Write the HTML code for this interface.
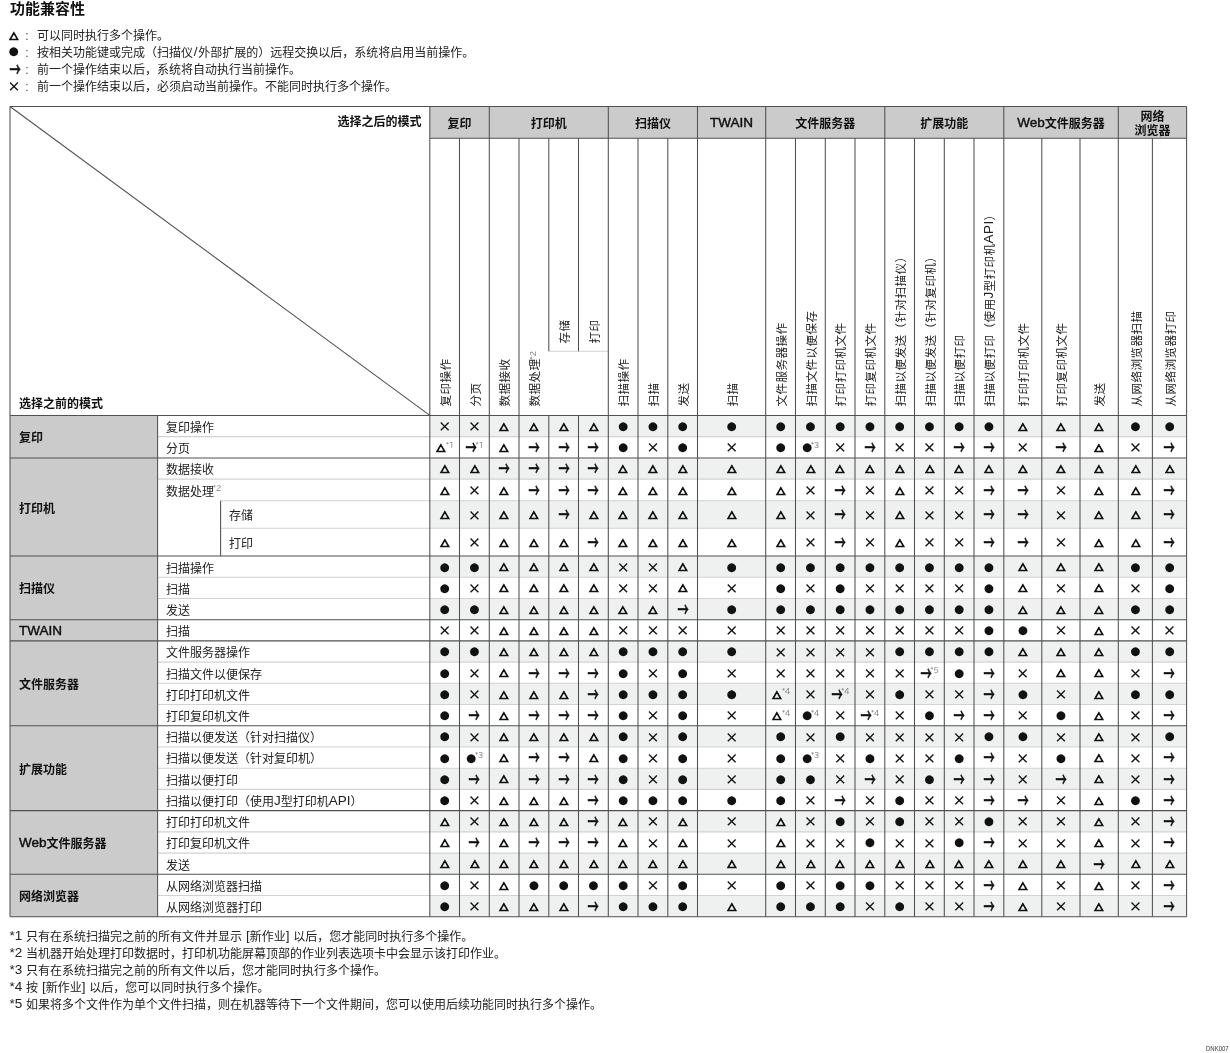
<!DOCTYPE html>
<html lang="zh-CN"><head><meta charset="utf-8"><title>功能兼容性</title>
<style>
html,body{margin:0;padding:0;background:#fff}
body{width:1230px;height:1053px;position:relative;overflow:hidden;font-family:"Liberation Sans","Noto Sans CJK SC",sans-serif;font-size:12px;line-height:17px;color:#222}
svg{position:absolute;left:0;top:0}
.d1,.d{position:absolute}
path.d{stroke:#505050;stroke-width:1.05;fill:none;position:static}
path.l{stroke:#d2d2d2;stroke-width:1.1;fill:none}
div{position:absolute;white-space:nowrap;height:17px}
.ti{font-size:15px;font-weight:bold;line-height:20px;height:20px;color:#111}
.b{font-weight:bold;color:#111}
.r{text-align:right}.c{text-align:center}
.g2{line-height:13.6px;height:27px}
.lg{left:0;width:800px;height:0}
.lg>span{position:absolute}
.ls{width:20px;text-align:center}
.co{left:25.3px;color:#444}
.lt{left:37px}
.v{width:0;height:0}
.v>span{position:absolute;left:0;top:-8.5px;height:17px;line-height:17px;transform-origin:0 8.5px;transform:rotate(-90deg);white-space:nowrap;font-size:11.6px;letter-spacing:.4px}
.d{text-align:center}
i{font-style:normal;color:#111;display:inline-block;line-height:17px;vertical-align:top}
sup{display:inline-block;font-size:8.3px;color:#808080;vertical-align:top;position:relative;top:-2.1px;margin:0 -.3px 0 -1.1px;line-height:17px;font-family:"IPAPGothic","NanumGothic","Liberation Sans",sans-serif}
.s sup{top:-3.4px}
.v sup{top:-1.5px}
.T{font-family:"IPAGothic",sans-serif;font-size:11.7px;-webkit-text-stroke:.9px #111;transform:scale(.96,.87);position:relative;top:1.15px}
.C{font-family:"DejaVu Sans",sans-serif;font-size:11.6px;position:relative;top:.5px}
.A{font-family:"Noto Sans CJK SC",sans-serif;font-weight:500;font-size:16px;-webkit-text-stroke:.45px #111;transform:scale(.7,1.2);margin:0 -2.4px;position:relative;top:.42px}
.X{font-family:"Noto Sans CJK SC",sans-serif;font-weight:700;font-size:13.4px;transform:scale(1,1);position:relative;top:-.3px}
.L{font-size:13.5px;line-height:0;position:relative;top:-.75px}
.Lb{font-size:13.5px;line-height:0;position:relative;top:-.75px;font-weight:normal;-webkit-text-stroke:.45px #111}
.sl{margin:0 .75px}
.id{font-size:7.1px;color:#333;line-height:8px;height:8px;transform:scaleX(.845);transform-origin:0 0}
</style></head>
<body>
<svg width="1230" height="1053" viewBox="0 0 1230 1053">
<rect x="429.80" y="106.50" width="756.80" height="31.80" fill="#cbcbcb"/>
<rect x="10.00" y="415.40" width="147.60" height="501.34" fill="#cbcbcb"/>
<rect x="429.80" y="415.40" width="756.80" height="21.25" fill="#eff0f0"/>
<rect x="429.80" y="457.90" width="756.80" height="21.25" fill="#eff0f0"/>
<rect x="429.80" y="500.80" width="756.80" height="27.40" fill="#eff0f0"/>
<rect x="429.80" y="556.00" width="756.80" height="21.22" fill="#eff0f0"/>
<rect x="429.80" y="598.44" width="756.80" height="21.22" fill="#eff0f0"/>
<rect x="429.80" y="640.88" width="756.80" height="21.22" fill="#eff0f0"/>
<rect x="429.80" y="683.32" width="756.80" height="21.22" fill="#eff0f0"/>
<rect x="429.80" y="725.76" width="756.80" height="21.22" fill="#eff0f0"/>
<rect x="429.80" y="768.20" width="756.80" height="21.22" fill="#eff0f0"/>
<rect x="429.80" y="810.64" width="756.80" height="21.22" fill="#eff0f0"/>
<rect x="429.80" y="853.08" width="756.80" height="21.22" fill="#eff0f0"/>
<rect x="429.80" y="895.52" width="756.80" height="21.22" fill="#eff0f0"/>
<path class="l" d="M157.60 436.65L1186.60 436.65"/>
<path class="l" d="M157.60 479.15L1186.60 479.15"/>
<path class="l" d="M220.60 500.80L1186.60 500.80"/>
<path class="l" d="M220.60 528.20L1186.60 528.20"/>
<path class="l" d="M157.60 577.22L1186.60 577.22"/>
<path class="l" d="M157.60 598.44L1186.60 598.44"/>
<path class="l" d="M157.60 662.10L1186.60 662.10"/>
<path class="l" d="M157.60 683.32L1186.60 683.32"/>
<path class="l" d="M157.60 704.54L1186.60 704.54"/>
<path class="l" d="M157.60 746.98L1186.60 746.98"/>
<path class="l" d="M157.60 768.20L1186.60 768.20"/>
<path class="l" d="M157.60 789.42L1186.60 789.42"/>
<path class="l" d="M157.60 831.86L1186.60 831.86"/>
<path class="l" d="M157.60 853.08L1186.60 853.08"/>
<path class="l" d="M157.60 895.52L1186.60 895.52"/>
<path class="l" d="M548.80 351.30L608.30 351.30"/>
<path class="d" d="M10.00 106.50L1186.60 106.50"/>
<path class="d" d="M10.00 916.74L1186.60 916.74"/>
<path class="d" d="M10.00 106.50L10.00 916.74"/>
<path class="d" d="M1186.60 106.50L1186.60 916.74"/>
<path class="d" d="M429.80 138.30L1186.60 138.30"/>
<path class="d" d="M10.00 415.40L1186.60 415.40"/>
<path class="d" d="M10.00 457.90L1186.60 457.90"/>
<path class="d" d="M10.00 556.00L1186.60 556.00"/>
<path class="d" d="M10.00 619.66L1186.60 619.66"/>
<path class="d" d="M10.00 640.88L1186.60 640.88"/>
<path class="d" d="M10.00 725.76L1186.60 725.76"/>
<path class="d" d="M10.00 810.64L1186.60 810.64"/>
<path class="d" d="M10.00 874.30L1186.60 874.30"/>
<path class="d" d="M157.60 415.40L157.60 916.74"/>
<path class="d" d="M220.60 500.80L220.60 556.00"/>
<path class="d" d="M429.80 106.50L429.80 916.74"/>
<path class="d" d="M459.50 138.30L459.50 916.74"/>
<path class="d" d="M489.30 106.50L489.30 916.74"/>
<path class="d" d="M519.00 138.30L519.00 916.74"/>
<path class="d" d="M548.80 138.30L548.80 351.30"/>
<path class="d" d="M548.80 415.40L548.80 916.74"/>
<path class="d" d="M578.50 138.30L578.50 351.30"/>
<path class="d" d="M578.50 415.40L578.50 916.74"/>
<path class="d" d="M608.30 106.50L608.30 916.74"/>
<path class="d" d="M638.00 138.30L638.00 916.74"/>
<path class="d" d="M667.80 138.30L667.80 916.74"/>
<path class="d" d="M697.50 106.50L697.50 916.74"/>
<path class="d" d="M765.70 106.50L765.70 916.74"/>
<path class="d" d="M795.50 138.30L795.50 916.74"/>
<path class="d" d="M825.30 138.30L825.30 916.74"/>
<path class="d" d="M855.00 138.30L855.00 916.74"/>
<path class="d" d="M884.80 106.50L884.80 916.74"/>
<path class="d" d="M914.50 138.30L914.50 916.74"/>
<path class="d" d="M944.30 138.30L944.30 916.74"/>
<path class="d" d="M974.00 138.30L974.00 916.74"/>
<path class="d" d="M1003.80 106.50L1003.80 916.74"/>
<path class="d" d="M1041.80 138.30L1041.80 916.74"/>
<path class="d" d="M1080.00 138.30L1080.00 916.74"/>
<path class="d" d="M1118.30 106.50L1118.30 916.74"/>
<path class="d" d="M1152.40 138.30L1152.40 916.74"/>
<path class="d" d="M10.00 106.50L429.80 415.40"/>
</svg>
<div class="ti" style="left:10px;top:-0.8px">功能兼容性</div>
<div class="lg" style="top:0px"><span class="ls" style="left:4.10px;top:27.54px"><i class="T" style="top:0">△</i></span><span class="co" style="top:27.7px">:</span><span class="lt" style="top:27.7px">可以同时执行多个操作。</span></div>
<div class="lg" style="top:17px"><span class="ls" style="left:3.46px;top:26.45px"><i class="C" style="top:0">●</i></span><span class="co" style="top:27.7px">:</span><span class="lt" style="top:27.7px">按相关功能键或完成（扫描仪<span class="L sl">/</span>外部扩展的）远程交换以后，系统将启用当前操作。</span></div>
<div class="lg" style="top:34px"><span class="ls" style="left:4.63px;top:26.95px"><i class="A" style="top:0">→</i></span><span class="co" style="top:27.7px">:</span><span class="lt" style="top:27.7px">前一个操作结束以后，系统将自动执行当前操作。</span></div>
<div class="lg" style="top:51px"><span class="ls" style="left:3.97px;top:26.08px"><i class="X" style="top:0">×</i></span><span class="co" style="top:27.7px">:</span><span class="lt" style="top:27.7px">前一个操作结束以后，必须启动当前操作。不能同时执行多个操作。</span></div>
<div class="b r" style="left:200px;width:221.6px;top:114.0px">选择之后的模式</div>
<div class="b" style="left:18.9px;top:395.6px">选择之前的模式</div>
<div class="b c" style="left:429.80px;width:59.50px;top:116.1px">复印</div>
<div class="b c" style="left:489.30px;width:119.00px;top:116.1px">打印机</div>
<div class="b c" style="left:608.30px;width:89.20px;top:116.1px">扫描仪</div>
<div class="b c" style="left:697.50px;width:68.20px;top:116.1px"><span class="Lb">TWAIN</span></div>
<div class="b c" style="left:765.70px;width:119.10px;top:116.1px">文件服务器</div>
<div class="b c" style="left:884.80px;width:119.00px;top:116.1px">扩展功能</div>
<div class="b c" style="left:1003.80px;width:114.50px;top:116.1px"><span class="Lb">Web</span>文件服务器</div>
<div class="b c g2" style="left:1118.30px;width:68.30px;top:111.0px">网络<br>浏览器</div>
<div class="v" style="left:444.95px;top:406.9px"><span>复印操作</span></div>
<div class="v" style="left:474.70px;top:406.9px"><span>分页</span></div>
<div class="v" style="left:504.45px;top:406.9px"><span>数据接收</span></div>
<div class="v" style="left:534.20px;top:406.9px"><span>数据处理<sup>*2</sup></span></div>
<div class="v" style="left:563.95px;top:343.9px"><span>存储</span></div>
<div class="v" style="left:593.70px;top:343.9px"><span>打印</span></div>
<div class="v" style="left:623.45px;top:406.9px"><span>扫描操作</span></div>
<div class="v" style="left:653.20px;top:406.9px"><span>扫描</span></div>
<div class="v" style="left:682.95px;top:406.9px"><span>发送</span></div>
<div class="v" style="left:731.90px;top:406.9px"><span>扫描</span></div>
<div class="v" style="left:780.90px;top:406.9px"><span>文件服务器操作</span></div>
<div class="v" style="left:810.70px;top:406.9px"><span>扫描文件以便保存</span></div>
<div class="v" style="left:840.45px;top:406.9px"><span>打印打印机文件</span></div>
<div class="v" style="left:870.20px;top:406.9px"><span>打印复印机文件</span></div>
<div class="v" style="left:899.95px;top:406.9px"><span>扫描以便发送（针对扫描仪）</span></div>
<div class="v" style="left:929.70px;top:406.9px"><span>扫描以便发送（针对复印机）</span></div>
<div class="v" style="left:959.45px;top:406.9px"><span>扫描以便打印</span></div>
<div class="v" style="left:989.20px;top:406.9px"><span>扫描以便打印（使用<span class="L">J</span>型打印机<span class="L">API</span>）</span></div>
<div class="v" style="left:1023.10px;top:406.9px"><span>打印打印机文件</span></div>
<div class="v" style="left:1061.20px;top:406.9px"><span>打印复印机文件</span></div>
<div class="v" style="left:1099.45px;top:406.9px"><span>发送</span></div>
<div class="v" style="left:1135.65px;top:406.9px"><span>从网络浏览器扫描</span></div>
<div class="v" style="left:1169.80px;top:406.9px"><span>从网络浏览器打印</span></div>
<div class="b" style="left:19px;top:430.2px">复印</div>
<div class="b" style="left:19px;top:500.5px">打印机</div>
<div class="b" style="left:19px;top:581.4px">扫描仪</div>
<div class="b" style="left:19px;top:623.8px"><span class="Lb">TWAIN</span></div>
<div class="b" style="left:19px;top:676.9px">文件服务器</div>
<div class="b" style="left:19px;top:761.8px">扩展功能</div>
<div class="b" style="left:19px;top:836.0px"><span class="Lb">Web</span>文件服务器</div>
<div class="b" style="left:19px;top:889.1px">网络浏览器</div>
<div class="s" style="left:165.9px;top:419.9px">复印操作</div>
<div class="s" style="left:165.9px;top:441.1px">分页</div>
<div class="s" style="left:165.9px;top:462.4px">数据接收</div>
<div class="s" style="left:165.9px;top:483.8px">数据处理<sup>*2</sup></div>
<div class="s" style="left:228.9px;top:508.4px">存储</div>
<div class="s" style="left:228.9px;top:536.0px">打印</div>
<div class="s" style="left:165.9px;top:560.5px">扫描操作</div>
<div class="s" style="left:165.9px;top:581.7px">扫描</div>
<div class="s" style="left:165.9px;top:602.9px">发送</div>
<div class="s" style="left:165.9px;top:624.1px">扫描</div>
<div class="s" style="left:165.9px;top:645.3px">文件服务器操作</div>
<div class="s" style="left:165.9px;top:666.6px">扫描文件以便保存</div>
<div class="s" style="left:165.9px;top:687.8px">打印打印机文件</div>
<div class="s" style="left:165.9px;top:709.0px">打印复印机文件</div>
<div class="s" style="left:165.9px;top:730.2px">扫描以便发送（针对扫描仪）</div>
<div class="s" style="left:165.9px;top:751.4px">扫描以便发送（针对复印机）</div>
<div class="s" style="left:165.9px;top:772.7px">扫描以便打印</div>
<div class="s" style="left:165.9px;top:793.9px">扫描以便打印（使用<span class="L">J</span>型打印机<span class="L">API</span>）</div>
<div class="s" style="left:165.9px;top:815.1px">打印打印机文件</div>
<div class="s" style="left:165.9px;top:836.3px">打印复印机文件</div>
<div class="s" style="left:165.9px;top:857.5px">发送</div>
<div class="s" style="left:165.9px;top:878.8px">从网络浏览器扫描</div>
<div class="s" style="left:165.9px;top:900.0px">从网络浏览器打印</div>
<div class="d" style="left:429.80px;width:29.70px;top:417.52px"><i class="X">×</i></div>
<div class="d" style="left:459.50px;width:29.80px;top:417.52px"><i class="X">×</i></div>
<div class="d" style="left:489.30px;width:29.70px;top:417.52px"><i class="T">△</i></div>
<div class="d" style="left:519.00px;width:29.80px;top:417.52px"><i class="T">△</i></div>
<div class="d" style="left:548.80px;width:29.70px;top:417.52px"><i class="T">△</i></div>
<div class="d" style="left:578.50px;width:29.80px;top:417.52px"><i class="T">△</i></div>
<div class="d" style="left:608.30px;width:29.70px;top:417.52px"><i class="C">●</i></div>
<div class="d" style="left:638.00px;width:29.80px;top:417.52px"><i class="C">●</i></div>
<div class="d" style="left:667.80px;width:29.70px;top:417.52px"><i class="C">●</i></div>
<div class="d" style="left:697.50px;width:68.20px;top:417.52px"><i class="C">●</i></div>
<div class="d" style="left:765.70px;width:29.80px;top:417.52px"><i class="C">●</i></div>
<div class="d" style="left:795.50px;width:29.80px;top:417.52px"><i class="C">●</i></div>
<div class="d" style="left:825.30px;width:29.70px;top:417.52px"><i class="C">●</i></div>
<div class="d" style="left:855.00px;width:29.80px;top:417.52px"><i class="C">●</i></div>
<div class="d" style="left:884.80px;width:29.70px;top:417.52px"><i class="C">●</i></div>
<div class="d" style="left:914.50px;width:29.80px;top:417.52px"><i class="C">●</i></div>
<div class="d" style="left:944.30px;width:29.70px;top:417.52px"><i class="C">●</i></div>
<div class="d" style="left:974.00px;width:29.80px;top:417.52px"><i class="C">●</i></div>
<div class="d" style="left:1003.80px;width:38.00px;top:417.52px"><i class="T">△</i></div>
<div class="d" style="left:1041.80px;width:38.20px;top:417.52px"><i class="T">△</i></div>
<div class="d" style="left:1080.00px;width:38.30px;top:417.52px"><i class="T">△</i></div>
<div class="d" style="left:1118.30px;width:34.10px;top:417.52px"><i class="C">●</i></div>
<div class="d" style="left:1152.40px;width:34.20px;top:417.52px"><i class="C">●</i></div>
<div class="d" style="left:429.80px;width:29.70px;top:438.77px"><i class="T">△</i><sup>*1</sup></div>
<div class="d" style="left:459.50px;width:29.80px;top:438.77px"><i class="A">→</i><sup>*1</sup></div>
<div class="d" style="left:489.30px;width:29.70px;top:438.77px"><i class="T">△</i></div>
<div class="d" style="left:519.00px;width:29.80px;top:438.77px"><i class="A">→</i></div>
<div class="d" style="left:548.80px;width:29.70px;top:438.77px"><i class="A">→</i></div>
<div class="d" style="left:578.50px;width:29.80px;top:438.77px"><i class="A">→</i></div>
<div class="d" style="left:608.30px;width:29.70px;top:438.77px"><i class="C">●</i></div>
<div class="d" style="left:638.00px;width:29.80px;top:438.77px"><i class="X">×</i></div>
<div class="d" style="left:667.80px;width:29.70px;top:438.77px"><i class="C">●</i></div>
<div class="d" style="left:697.50px;width:68.20px;top:438.77px"><i class="X">×</i></div>
<div class="d" style="left:765.70px;width:29.80px;top:438.77px"><i class="C">●</i></div>
<div class="d" style="left:795.50px;width:29.80px;top:438.77px"><i class="C">●</i><sup>*3</sup></div>
<div class="d" style="left:825.30px;width:29.70px;top:438.77px"><i class="X">×</i></div>
<div class="d" style="left:855.00px;width:29.80px;top:438.77px"><i class="A">→</i></div>
<div class="d" style="left:884.80px;width:29.70px;top:438.77px"><i class="X">×</i></div>
<div class="d" style="left:914.50px;width:29.80px;top:438.77px"><i class="X">×</i></div>
<div class="d" style="left:944.30px;width:29.70px;top:438.77px"><i class="A">→</i></div>
<div class="d" style="left:974.00px;width:29.80px;top:438.77px"><i class="A">→</i></div>
<div class="d" style="left:1003.80px;width:38.00px;top:438.77px"><i class="X">×</i></div>
<div class="d" style="left:1041.80px;width:38.20px;top:438.77px"><i class="A">→</i></div>
<div class="d" style="left:1080.00px;width:38.30px;top:438.77px"><i class="T">△</i></div>
<div class="d" style="left:1118.30px;width:34.10px;top:438.77px"><i class="X">×</i></div>
<div class="d" style="left:1152.40px;width:34.20px;top:438.77px"><i class="A">→</i></div>
<div class="d" style="left:429.80px;width:29.70px;top:460.02px"><i class="T">△</i></div>
<div class="d" style="left:459.50px;width:29.80px;top:460.02px"><i class="T">△</i></div>
<div class="d" style="left:489.30px;width:29.70px;top:460.02px"><i class="A">→</i></div>
<div class="d" style="left:519.00px;width:29.80px;top:460.02px"><i class="A">→</i></div>
<div class="d" style="left:548.80px;width:29.70px;top:460.02px"><i class="A">→</i></div>
<div class="d" style="left:578.50px;width:29.80px;top:460.02px"><i class="A">→</i></div>
<div class="d" style="left:608.30px;width:29.70px;top:460.02px"><i class="T">△</i></div>
<div class="d" style="left:638.00px;width:29.80px;top:460.02px"><i class="T">△</i></div>
<div class="d" style="left:667.80px;width:29.70px;top:460.02px"><i class="T">△</i></div>
<div class="d" style="left:697.50px;width:68.20px;top:460.02px"><i class="T">△</i></div>
<div class="d" style="left:765.70px;width:29.80px;top:460.02px"><i class="T">△</i></div>
<div class="d" style="left:795.50px;width:29.80px;top:460.02px"><i class="T">△</i></div>
<div class="d" style="left:825.30px;width:29.70px;top:460.02px"><i class="T">△</i></div>
<div class="d" style="left:855.00px;width:29.80px;top:460.02px"><i class="T">△</i></div>
<div class="d" style="left:884.80px;width:29.70px;top:460.02px"><i class="T">△</i></div>
<div class="d" style="left:914.50px;width:29.80px;top:460.02px"><i class="T">△</i></div>
<div class="d" style="left:944.30px;width:29.70px;top:460.02px"><i class="T">△</i></div>
<div class="d" style="left:974.00px;width:29.80px;top:460.02px"><i class="T">△</i></div>
<div class="d" style="left:1003.80px;width:38.00px;top:460.02px"><i class="T">△</i></div>
<div class="d" style="left:1041.80px;width:38.20px;top:460.02px"><i class="T">△</i></div>
<div class="d" style="left:1080.00px;width:38.30px;top:460.02px"><i class="T">△</i></div>
<div class="d" style="left:1118.30px;width:34.10px;top:460.02px"><i class="T">△</i></div>
<div class="d" style="left:1152.40px;width:34.20px;top:460.02px"><i class="T">△</i></div>
<div class="d" style="left:429.80px;width:29.70px;top:481.48px"><i class="T">△</i></div>
<div class="d" style="left:459.50px;width:29.80px;top:481.48px"><i class="X">×</i></div>
<div class="d" style="left:489.30px;width:29.70px;top:481.48px"><i class="T">△</i></div>
<div class="d" style="left:519.00px;width:29.80px;top:481.48px"><i class="A">→</i></div>
<div class="d" style="left:548.80px;width:29.70px;top:481.48px"><i class="A">→</i></div>
<div class="d" style="left:578.50px;width:29.80px;top:481.48px"><i class="A">→</i></div>
<div class="d" style="left:608.30px;width:29.70px;top:481.48px"><i class="T">△</i></div>
<div class="d" style="left:638.00px;width:29.80px;top:481.48px"><i class="T">△</i></div>
<div class="d" style="left:667.80px;width:29.70px;top:481.48px"><i class="T">△</i></div>
<div class="d" style="left:697.50px;width:68.20px;top:481.48px"><i class="T">△</i></div>
<div class="d" style="left:765.70px;width:29.80px;top:481.48px"><i class="T">△</i></div>
<div class="d" style="left:795.50px;width:29.80px;top:481.48px"><i class="X">×</i></div>
<div class="d" style="left:825.30px;width:29.70px;top:481.48px"><i class="A">→</i></div>
<div class="d" style="left:855.00px;width:29.80px;top:481.48px"><i class="X">×</i></div>
<div class="d" style="left:884.80px;width:29.70px;top:481.48px"><i class="T">△</i></div>
<div class="d" style="left:914.50px;width:29.80px;top:481.48px"><i class="X">×</i></div>
<div class="d" style="left:944.30px;width:29.70px;top:481.48px"><i class="X">×</i></div>
<div class="d" style="left:974.00px;width:29.80px;top:481.48px"><i class="A">→</i></div>
<div class="d" style="left:1003.80px;width:38.00px;top:481.48px"><i class="A">→</i></div>
<div class="d" style="left:1041.80px;width:38.20px;top:481.48px"><i class="X">×</i></div>
<div class="d" style="left:1080.00px;width:38.30px;top:481.48px"><i class="T">△</i></div>
<div class="d" style="left:1118.30px;width:34.10px;top:481.48px"><i class="T">△</i></div>
<div class="d" style="left:1152.40px;width:34.20px;top:481.48px"><i class="A">→</i></div>
<div class="d" style="left:429.80px;width:29.70px;top:506.00px"><i class="T">△</i></div>
<div class="d" style="left:459.50px;width:29.80px;top:506.00px"><i class="X">×</i></div>
<div class="d" style="left:489.30px;width:29.70px;top:506.00px"><i class="T">△</i></div>
<div class="d" style="left:519.00px;width:29.80px;top:506.00px"><i class="T">△</i></div>
<div class="d" style="left:548.80px;width:29.70px;top:506.00px"><i class="A">→</i></div>
<div class="d" style="left:578.50px;width:29.80px;top:506.00px"><i class="T">△</i></div>
<div class="d" style="left:608.30px;width:29.70px;top:506.00px"><i class="T">△</i></div>
<div class="d" style="left:638.00px;width:29.80px;top:506.00px"><i class="T">△</i></div>
<div class="d" style="left:667.80px;width:29.70px;top:506.00px"><i class="T">△</i></div>
<div class="d" style="left:697.50px;width:68.20px;top:506.00px"><i class="T">△</i></div>
<div class="d" style="left:765.70px;width:29.80px;top:506.00px"><i class="T">△</i></div>
<div class="d" style="left:795.50px;width:29.80px;top:506.00px"><i class="X">×</i></div>
<div class="d" style="left:825.30px;width:29.70px;top:506.00px"><i class="A">→</i></div>
<div class="d" style="left:855.00px;width:29.80px;top:506.00px"><i class="X">×</i></div>
<div class="d" style="left:884.80px;width:29.70px;top:506.00px"><i class="T">△</i></div>
<div class="d" style="left:914.50px;width:29.80px;top:506.00px"><i class="X">×</i></div>
<div class="d" style="left:944.30px;width:29.70px;top:506.00px"><i class="X">×</i></div>
<div class="d" style="left:974.00px;width:29.80px;top:506.00px"><i class="A">→</i></div>
<div class="d" style="left:1003.80px;width:38.00px;top:506.00px"><i class="A">→</i></div>
<div class="d" style="left:1041.80px;width:38.20px;top:506.00px"><i class="X">×</i></div>
<div class="d" style="left:1080.00px;width:38.30px;top:506.00px"><i class="T">△</i></div>
<div class="d" style="left:1118.30px;width:34.10px;top:506.00px"><i class="T">△</i></div>
<div class="d" style="left:1152.40px;width:34.20px;top:506.00px"><i class="A">→</i></div>
<div class="d" style="left:429.80px;width:29.70px;top:533.60px"><i class="T">△</i></div>
<div class="d" style="left:459.50px;width:29.80px;top:533.60px"><i class="X">×</i></div>
<div class="d" style="left:489.30px;width:29.70px;top:533.60px"><i class="T">△</i></div>
<div class="d" style="left:519.00px;width:29.80px;top:533.60px"><i class="T">△</i></div>
<div class="d" style="left:548.80px;width:29.70px;top:533.60px"><i class="T">△</i></div>
<div class="d" style="left:578.50px;width:29.80px;top:533.60px"><i class="A">→</i></div>
<div class="d" style="left:608.30px;width:29.70px;top:533.60px"><i class="T">△</i></div>
<div class="d" style="left:638.00px;width:29.80px;top:533.60px"><i class="T">△</i></div>
<div class="d" style="left:667.80px;width:29.70px;top:533.60px"><i class="T">△</i></div>
<div class="d" style="left:697.50px;width:68.20px;top:533.60px"><i class="T">△</i></div>
<div class="d" style="left:765.70px;width:29.80px;top:533.60px"><i class="T">△</i></div>
<div class="d" style="left:795.50px;width:29.80px;top:533.60px"><i class="X">×</i></div>
<div class="d" style="left:825.30px;width:29.70px;top:533.60px"><i class="A">→</i></div>
<div class="d" style="left:855.00px;width:29.80px;top:533.60px"><i class="X">×</i></div>
<div class="d" style="left:884.80px;width:29.70px;top:533.60px"><i class="T">△</i></div>
<div class="d" style="left:914.50px;width:29.80px;top:533.60px"><i class="X">×</i></div>
<div class="d" style="left:944.30px;width:29.70px;top:533.60px"><i class="X">×</i></div>
<div class="d" style="left:974.00px;width:29.80px;top:533.60px"><i class="A">→</i></div>
<div class="d" style="left:1003.80px;width:38.00px;top:533.60px"><i class="A">→</i></div>
<div class="d" style="left:1041.80px;width:38.20px;top:533.60px"><i class="X">×</i></div>
<div class="d" style="left:1080.00px;width:38.30px;top:533.60px"><i class="T">△</i></div>
<div class="d" style="left:1118.30px;width:34.10px;top:533.60px"><i class="T">△</i></div>
<div class="d" style="left:1152.40px;width:34.20px;top:533.60px"><i class="A">→</i></div>
<div class="d" style="left:429.80px;width:29.70px;top:558.11px"><i class="C">●</i></div>
<div class="d" style="left:459.50px;width:29.80px;top:558.11px"><i class="C">●</i></div>
<div class="d" style="left:489.30px;width:29.70px;top:558.11px"><i class="T">△</i></div>
<div class="d" style="left:519.00px;width:29.80px;top:558.11px"><i class="T">△</i></div>
<div class="d" style="left:548.80px;width:29.70px;top:558.11px"><i class="T">△</i></div>
<div class="d" style="left:578.50px;width:29.80px;top:558.11px"><i class="T">△</i></div>
<div class="d" style="left:608.30px;width:29.70px;top:558.11px"><i class="X">×</i></div>
<div class="d" style="left:638.00px;width:29.80px;top:558.11px"><i class="X">×</i></div>
<div class="d" style="left:667.80px;width:29.70px;top:558.11px"><i class="T">△</i></div>
<div class="d" style="left:697.50px;width:68.20px;top:558.11px"><i class="C">●</i></div>
<div class="d" style="left:765.70px;width:29.80px;top:558.11px"><i class="C">●</i></div>
<div class="d" style="left:795.50px;width:29.80px;top:558.11px"><i class="C">●</i></div>
<div class="d" style="left:825.30px;width:29.70px;top:558.11px"><i class="C">●</i></div>
<div class="d" style="left:855.00px;width:29.80px;top:558.11px"><i class="C">●</i></div>
<div class="d" style="left:884.80px;width:29.70px;top:558.11px"><i class="C">●</i></div>
<div class="d" style="left:914.50px;width:29.80px;top:558.11px"><i class="C">●</i></div>
<div class="d" style="left:944.30px;width:29.70px;top:558.11px"><i class="C">●</i></div>
<div class="d" style="left:974.00px;width:29.80px;top:558.11px"><i class="C">●</i></div>
<div class="d" style="left:1003.80px;width:38.00px;top:558.11px"><i class="T">△</i></div>
<div class="d" style="left:1041.80px;width:38.20px;top:558.11px"><i class="T">△</i></div>
<div class="d" style="left:1080.00px;width:38.30px;top:558.11px"><i class="T">△</i></div>
<div class="d" style="left:1118.30px;width:34.10px;top:558.11px"><i class="C">●</i></div>
<div class="d" style="left:1152.40px;width:34.20px;top:558.11px"><i class="C">●</i></div>
<div class="d" style="left:429.80px;width:29.70px;top:579.33px"><i class="C">●</i></div>
<div class="d" style="left:459.50px;width:29.80px;top:579.33px"><i class="X">×</i></div>
<div class="d" style="left:489.30px;width:29.70px;top:579.33px"><i class="T">△</i></div>
<div class="d" style="left:519.00px;width:29.80px;top:579.33px"><i class="T">△</i></div>
<div class="d" style="left:548.80px;width:29.70px;top:579.33px"><i class="T">△</i></div>
<div class="d" style="left:578.50px;width:29.80px;top:579.33px"><i class="T">△</i></div>
<div class="d" style="left:608.30px;width:29.70px;top:579.33px"><i class="X">×</i></div>
<div class="d" style="left:638.00px;width:29.80px;top:579.33px"><i class="X">×</i></div>
<div class="d" style="left:667.80px;width:29.70px;top:579.33px"><i class="T">△</i></div>
<div class="d" style="left:697.50px;width:68.20px;top:579.33px"><i class="X">×</i></div>
<div class="d" style="left:765.70px;width:29.80px;top:579.33px"><i class="C">●</i></div>
<div class="d" style="left:795.50px;width:29.80px;top:579.33px"><i class="X">×</i></div>
<div class="d" style="left:825.30px;width:29.70px;top:579.33px"><i class="C">●</i></div>
<div class="d" style="left:855.00px;width:29.80px;top:579.33px"><i class="X">×</i></div>
<div class="d" style="left:884.80px;width:29.70px;top:579.33px"><i class="X">×</i></div>
<div class="d" style="left:914.50px;width:29.80px;top:579.33px"><i class="X">×</i></div>
<div class="d" style="left:944.30px;width:29.70px;top:579.33px"><i class="X">×</i></div>
<div class="d" style="left:974.00px;width:29.80px;top:579.33px"><i class="C">●</i></div>
<div class="d" style="left:1003.80px;width:38.00px;top:579.33px"><i class="T">△</i></div>
<div class="d" style="left:1041.80px;width:38.20px;top:579.33px"><i class="X">×</i></div>
<div class="d" style="left:1080.00px;width:38.30px;top:579.33px"><i class="T">△</i></div>
<div class="d" style="left:1118.30px;width:34.10px;top:579.33px"><i class="X">×</i></div>
<div class="d" style="left:1152.40px;width:34.20px;top:579.33px"><i class="C">●</i></div>
<div class="d" style="left:429.80px;width:29.70px;top:600.55px"><i class="C">●</i></div>
<div class="d" style="left:459.50px;width:29.80px;top:600.55px"><i class="C">●</i></div>
<div class="d" style="left:489.30px;width:29.70px;top:600.55px"><i class="T">△</i></div>
<div class="d" style="left:519.00px;width:29.80px;top:600.55px"><i class="T">△</i></div>
<div class="d" style="left:548.80px;width:29.70px;top:600.55px"><i class="T">△</i></div>
<div class="d" style="left:578.50px;width:29.80px;top:600.55px"><i class="T">△</i></div>
<div class="d" style="left:608.30px;width:29.70px;top:600.55px"><i class="T">△</i></div>
<div class="d" style="left:638.00px;width:29.80px;top:600.55px"><i class="T">△</i></div>
<div class="d" style="left:667.80px;width:29.70px;top:600.55px"><i class="A">→</i></div>
<div class="d" style="left:697.50px;width:68.20px;top:600.55px"><i class="C">●</i></div>
<div class="d" style="left:765.70px;width:29.80px;top:600.55px"><i class="C">●</i></div>
<div class="d" style="left:795.50px;width:29.80px;top:600.55px"><i class="C">●</i></div>
<div class="d" style="left:825.30px;width:29.70px;top:600.55px"><i class="C">●</i></div>
<div class="d" style="left:855.00px;width:29.80px;top:600.55px"><i class="C">●</i></div>
<div class="d" style="left:884.80px;width:29.70px;top:600.55px"><i class="C">●</i></div>
<div class="d" style="left:914.50px;width:29.80px;top:600.55px"><i class="C">●</i></div>
<div class="d" style="left:944.30px;width:29.70px;top:600.55px"><i class="C">●</i></div>
<div class="d" style="left:974.00px;width:29.80px;top:600.55px"><i class="C">●</i></div>
<div class="d" style="left:1003.80px;width:38.00px;top:600.55px"><i class="T">△</i></div>
<div class="d" style="left:1041.80px;width:38.20px;top:600.55px"><i class="T">△</i></div>
<div class="d" style="left:1080.00px;width:38.30px;top:600.55px"><i class="T">△</i></div>
<div class="d" style="left:1118.30px;width:34.10px;top:600.55px"><i class="C">●</i></div>
<div class="d" style="left:1152.40px;width:34.20px;top:600.55px"><i class="C">●</i></div>
<div class="d" style="left:429.80px;width:29.70px;top:621.77px"><i class="X">×</i></div>
<div class="d" style="left:459.50px;width:29.80px;top:621.77px"><i class="X">×</i></div>
<div class="d" style="left:489.30px;width:29.70px;top:621.77px"><i class="T">△</i></div>
<div class="d" style="left:519.00px;width:29.80px;top:621.77px"><i class="T">△</i></div>
<div class="d" style="left:548.80px;width:29.70px;top:621.77px"><i class="T">△</i></div>
<div class="d" style="left:578.50px;width:29.80px;top:621.77px"><i class="T">△</i></div>
<div class="d" style="left:608.30px;width:29.70px;top:621.77px"><i class="X">×</i></div>
<div class="d" style="left:638.00px;width:29.80px;top:621.77px"><i class="X">×</i></div>
<div class="d" style="left:667.80px;width:29.70px;top:621.77px"><i class="X">×</i></div>
<div class="d" style="left:697.50px;width:68.20px;top:621.77px"><i class="X">×</i></div>
<div class="d" style="left:765.70px;width:29.80px;top:621.77px"><i class="X">×</i></div>
<div class="d" style="left:795.50px;width:29.80px;top:621.77px"><i class="X">×</i></div>
<div class="d" style="left:825.30px;width:29.70px;top:621.77px"><i class="X">×</i></div>
<div class="d" style="left:855.00px;width:29.80px;top:621.77px"><i class="X">×</i></div>
<div class="d" style="left:884.80px;width:29.70px;top:621.77px"><i class="X">×</i></div>
<div class="d" style="left:914.50px;width:29.80px;top:621.77px"><i class="X">×</i></div>
<div class="d" style="left:944.30px;width:29.70px;top:621.77px"><i class="X">×</i></div>
<div class="d" style="left:974.00px;width:29.80px;top:621.77px"><i class="C">●</i></div>
<div class="d" style="left:1003.80px;width:38.00px;top:621.77px"><i class="C">●</i></div>
<div class="d" style="left:1041.80px;width:38.20px;top:621.77px"><i class="X">×</i></div>
<div class="d" style="left:1080.00px;width:38.30px;top:621.77px"><i class="T">△</i></div>
<div class="d" style="left:1118.30px;width:34.10px;top:621.77px"><i class="X">×</i></div>
<div class="d" style="left:1152.40px;width:34.20px;top:621.77px"><i class="X">×</i></div>
<div class="d" style="left:429.80px;width:29.70px;top:642.99px"><i class="C">●</i></div>
<div class="d" style="left:459.50px;width:29.80px;top:642.99px"><i class="C">●</i></div>
<div class="d" style="left:489.30px;width:29.70px;top:642.99px"><i class="T">△</i></div>
<div class="d" style="left:519.00px;width:29.80px;top:642.99px"><i class="T">△</i></div>
<div class="d" style="left:548.80px;width:29.70px;top:642.99px"><i class="T">△</i></div>
<div class="d" style="left:578.50px;width:29.80px;top:642.99px"><i class="T">△</i></div>
<div class="d" style="left:608.30px;width:29.70px;top:642.99px"><i class="C">●</i></div>
<div class="d" style="left:638.00px;width:29.80px;top:642.99px"><i class="C">●</i></div>
<div class="d" style="left:667.80px;width:29.70px;top:642.99px"><i class="C">●</i></div>
<div class="d" style="left:697.50px;width:68.20px;top:642.99px"><i class="C">●</i></div>
<div class="d" style="left:765.70px;width:29.80px;top:642.99px"><i class="X">×</i></div>
<div class="d" style="left:795.50px;width:29.80px;top:642.99px"><i class="X">×</i></div>
<div class="d" style="left:825.30px;width:29.70px;top:642.99px"><i class="X">×</i></div>
<div class="d" style="left:855.00px;width:29.80px;top:642.99px"><i class="X">×</i></div>
<div class="d" style="left:884.80px;width:29.70px;top:642.99px"><i class="C">●</i></div>
<div class="d" style="left:914.50px;width:29.80px;top:642.99px"><i class="C">●</i></div>
<div class="d" style="left:944.30px;width:29.70px;top:642.99px"><i class="C">●</i></div>
<div class="d" style="left:974.00px;width:29.80px;top:642.99px"><i class="C">●</i></div>
<div class="d" style="left:1003.80px;width:38.00px;top:642.99px"><i class="T">△</i></div>
<div class="d" style="left:1041.80px;width:38.20px;top:642.99px"><i class="T">△</i></div>
<div class="d" style="left:1080.00px;width:38.30px;top:642.99px"><i class="T">△</i></div>
<div class="d" style="left:1118.30px;width:34.10px;top:642.99px"><i class="C">●</i></div>
<div class="d" style="left:1152.40px;width:34.20px;top:642.99px"><i class="C">●</i></div>
<div class="d" style="left:429.80px;width:29.70px;top:664.21px"><i class="C">●</i></div>
<div class="d" style="left:459.50px;width:29.80px;top:664.21px"><i class="X">×</i></div>
<div class="d" style="left:489.30px;width:29.70px;top:664.21px"><i class="T">△</i></div>
<div class="d" style="left:519.00px;width:29.80px;top:664.21px"><i class="A">→</i></div>
<div class="d" style="left:548.80px;width:29.70px;top:664.21px"><i class="A">→</i></div>
<div class="d" style="left:578.50px;width:29.80px;top:664.21px"><i class="A">→</i></div>
<div class="d" style="left:608.30px;width:29.70px;top:664.21px"><i class="C">●</i></div>
<div class="d" style="left:638.00px;width:29.80px;top:664.21px"><i class="X">×</i></div>
<div class="d" style="left:667.80px;width:29.70px;top:664.21px"><i class="C">●</i></div>
<div class="d" style="left:697.50px;width:68.20px;top:664.21px"><i class="X">×</i></div>
<div class="d" style="left:765.70px;width:29.80px;top:664.21px"><i class="X">×</i></div>
<div class="d" style="left:795.50px;width:29.80px;top:664.21px"><i class="X">×</i></div>
<div class="d" style="left:825.30px;width:29.70px;top:664.21px"><i class="X">×</i></div>
<div class="d" style="left:855.00px;width:29.80px;top:664.21px"><i class="X">×</i></div>
<div class="d" style="left:884.80px;width:29.70px;top:664.21px"><i class="X">×</i></div>
<div class="d" style="left:914.50px;width:29.80px;top:664.21px"><i class="A">→</i><sup>*5</sup></div>
<div class="d" style="left:944.30px;width:29.70px;top:664.21px"><i class="C">●</i></div>
<div class="d" style="left:974.00px;width:29.80px;top:664.21px"><i class="A">→</i></div>
<div class="d" style="left:1003.80px;width:38.00px;top:664.21px"><i class="X">×</i></div>
<div class="d" style="left:1041.80px;width:38.20px;top:664.21px"><i class="T">△</i></div>
<div class="d" style="left:1080.00px;width:38.30px;top:664.21px"><i class="T">△</i></div>
<div class="d" style="left:1118.30px;width:34.10px;top:664.21px"><i class="X">×</i></div>
<div class="d" style="left:1152.40px;width:34.20px;top:664.21px"><i class="A">→</i></div>
<div class="d" style="left:429.80px;width:29.70px;top:685.43px"><i class="C">●</i></div>
<div class="d" style="left:459.50px;width:29.80px;top:685.43px"><i class="X">×</i></div>
<div class="d" style="left:489.30px;width:29.70px;top:685.43px"><i class="T">△</i></div>
<div class="d" style="left:519.00px;width:29.80px;top:685.43px"><i class="T">△</i></div>
<div class="d" style="left:548.80px;width:29.70px;top:685.43px"><i class="T">△</i></div>
<div class="d" style="left:578.50px;width:29.80px;top:685.43px"><i class="A">→</i></div>
<div class="d" style="left:608.30px;width:29.70px;top:685.43px"><i class="C">●</i></div>
<div class="d" style="left:638.00px;width:29.80px;top:685.43px"><i class="C">●</i></div>
<div class="d" style="left:667.80px;width:29.70px;top:685.43px"><i class="C">●</i></div>
<div class="d" style="left:697.50px;width:68.20px;top:685.43px"><i class="C">●</i></div>
<div class="d" style="left:765.70px;width:29.80px;top:685.43px"><i class="T">△</i><sup>*4</sup></div>
<div class="d" style="left:795.50px;width:29.80px;top:685.43px"><i class="X">×</i></div>
<div class="d" style="left:825.30px;width:29.70px;top:685.43px"><i class="A">→</i><sup>*4</sup></div>
<div class="d" style="left:855.00px;width:29.80px;top:685.43px"><i class="X">×</i></div>
<div class="d" style="left:884.80px;width:29.70px;top:685.43px"><i class="C">●</i></div>
<div class="d" style="left:914.50px;width:29.80px;top:685.43px"><i class="X">×</i></div>
<div class="d" style="left:944.30px;width:29.70px;top:685.43px"><i class="X">×</i></div>
<div class="d" style="left:974.00px;width:29.80px;top:685.43px"><i class="A">→</i></div>
<div class="d" style="left:1003.80px;width:38.00px;top:685.43px"><i class="C">●</i></div>
<div class="d" style="left:1041.80px;width:38.20px;top:685.43px"><i class="X">×</i></div>
<div class="d" style="left:1080.00px;width:38.30px;top:685.43px"><i class="T">△</i></div>
<div class="d" style="left:1118.30px;width:34.10px;top:685.43px"><i class="C">●</i></div>
<div class="d" style="left:1152.40px;width:34.20px;top:685.43px"><i class="C">●</i></div>
<div class="d" style="left:429.80px;width:29.70px;top:706.65px"><i class="C">●</i></div>
<div class="d" style="left:459.50px;width:29.80px;top:706.65px"><i class="A">→</i></div>
<div class="d" style="left:489.30px;width:29.70px;top:706.65px"><i class="T">△</i></div>
<div class="d" style="left:519.00px;width:29.80px;top:706.65px"><i class="A">→</i></div>
<div class="d" style="left:548.80px;width:29.70px;top:706.65px"><i class="A">→</i></div>
<div class="d" style="left:578.50px;width:29.80px;top:706.65px"><i class="A">→</i></div>
<div class="d" style="left:608.30px;width:29.70px;top:706.65px"><i class="C">●</i></div>
<div class="d" style="left:638.00px;width:29.80px;top:706.65px"><i class="X">×</i></div>
<div class="d" style="left:667.80px;width:29.70px;top:706.65px"><i class="C">●</i></div>
<div class="d" style="left:697.50px;width:68.20px;top:706.65px"><i class="X">×</i></div>
<div class="d" style="left:765.70px;width:29.80px;top:706.65px"><i class="T">△</i><sup>*4</sup></div>
<div class="d" style="left:795.50px;width:29.80px;top:706.65px"><i class="C">●</i><sup>*4</sup></div>
<div class="d" style="left:825.30px;width:29.70px;top:706.65px"><i class="X">×</i></div>
<div class="d" style="left:855.00px;width:29.80px;top:706.65px"><i class="A">→</i><sup>*4</sup></div>
<div class="d" style="left:884.80px;width:29.70px;top:706.65px"><i class="X">×</i></div>
<div class="d" style="left:914.50px;width:29.80px;top:706.65px"><i class="C">●</i></div>
<div class="d" style="left:944.30px;width:29.70px;top:706.65px"><i class="A">→</i></div>
<div class="d" style="left:974.00px;width:29.80px;top:706.65px"><i class="A">→</i></div>
<div class="d" style="left:1003.80px;width:38.00px;top:706.65px"><i class="X">×</i></div>
<div class="d" style="left:1041.80px;width:38.20px;top:706.65px"><i class="C">●</i></div>
<div class="d" style="left:1080.00px;width:38.30px;top:706.65px"><i class="T">△</i></div>
<div class="d" style="left:1118.30px;width:34.10px;top:706.65px"><i class="X">×</i></div>
<div class="d" style="left:1152.40px;width:34.20px;top:706.65px"><i class="A">→</i></div>
<div class="d" style="left:429.80px;width:29.70px;top:727.87px"><i class="C">●</i></div>
<div class="d" style="left:459.50px;width:29.80px;top:727.87px"><i class="X">×</i></div>
<div class="d" style="left:489.30px;width:29.70px;top:727.87px"><i class="T">△</i></div>
<div class="d" style="left:519.00px;width:29.80px;top:727.87px"><i class="T">△</i></div>
<div class="d" style="left:548.80px;width:29.70px;top:727.87px"><i class="T">△</i></div>
<div class="d" style="left:578.50px;width:29.80px;top:727.87px"><i class="T">△</i></div>
<div class="d" style="left:608.30px;width:29.70px;top:727.87px"><i class="C">●</i></div>
<div class="d" style="left:638.00px;width:29.80px;top:727.87px"><i class="X">×</i></div>
<div class="d" style="left:667.80px;width:29.70px;top:727.87px"><i class="C">●</i></div>
<div class="d" style="left:697.50px;width:68.20px;top:727.87px"><i class="X">×</i></div>
<div class="d" style="left:765.70px;width:29.80px;top:727.87px"><i class="C">●</i></div>
<div class="d" style="left:795.50px;width:29.80px;top:727.87px"><i class="X">×</i></div>
<div class="d" style="left:825.30px;width:29.70px;top:727.87px"><i class="C">●</i></div>
<div class="d" style="left:855.00px;width:29.80px;top:727.87px"><i class="X">×</i></div>
<div class="d" style="left:884.80px;width:29.70px;top:727.87px"><i class="X">×</i></div>
<div class="d" style="left:914.50px;width:29.80px;top:727.87px"><i class="X">×</i></div>
<div class="d" style="left:944.30px;width:29.70px;top:727.87px"><i class="X">×</i></div>
<div class="d" style="left:974.00px;width:29.80px;top:727.87px"><i class="C">●</i></div>
<div class="d" style="left:1003.80px;width:38.00px;top:727.87px"><i class="C">●</i></div>
<div class="d" style="left:1041.80px;width:38.20px;top:727.87px"><i class="X">×</i></div>
<div class="d" style="left:1080.00px;width:38.30px;top:727.87px"><i class="T">△</i></div>
<div class="d" style="left:1118.30px;width:34.10px;top:727.87px"><i class="X">×</i></div>
<div class="d" style="left:1152.40px;width:34.20px;top:727.87px"><i class="C">●</i></div>
<div class="d" style="left:429.80px;width:29.70px;top:749.09px"><i class="C">●</i></div>
<div class="d" style="left:459.50px;width:29.80px;top:749.09px"><i class="C">●</i><sup>*3</sup></div>
<div class="d" style="left:489.30px;width:29.70px;top:749.09px"><i class="T">△</i></div>
<div class="d" style="left:519.00px;width:29.80px;top:749.09px"><i class="A">→</i></div>
<div class="d" style="left:548.80px;width:29.70px;top:749.09px"><i class="A">→</i></div>
<div class="d" style="left:578.50px;width:29.80px;top:749.09px"><i class="T">△</i></div>
<div class="d" style="left:608.30px;width:29.70px;top:749.09px"><i class="C">●</i></div>
<div class="d" style="left:638.00px;width:29.80px;top:749.09px"><i class="X">×</i></div>
<div class="d" style="left:667.80px;width:29.70px;top:749.09px"><i class="C">●</i></div>
<div class="d" style="left:697.50px;width:68.20px;top:749.09px"><i class="X">×</i></div>
<div class="d" style="left:765.70px;width:29.80px;top:749.09px"><i class="C">●</i></div>
<div class="d" style="left:795.50px;width:29.80px;top:749.09px"><i class="C">●</i><sup>*3</sup></div>
<div class="d" style="left:825.30px;width:29.70px;top:749.09px"><i class="X">×</i></div>
<div class="d" style="left:855.00px;width:29.80px;top:749.09px"><i class="C">●</i></div>
<div class="d" style="left:884.80px;width:29.70px;top:749.09px"><i class="X">×</i></div>
<div class="d" style="left:914.50px;width:29.80px;top:749.09px"><i class="X">×</i></div>
<div class="d" style="left:944.30px;width:29.70px;top:749.09px"><i class="C">●</i></div>
<div class="d" style="left:974.00px;width:29.80px;top:749.09px"><i class="A">→</i></div>
<div class="d" style="left:1003.80px;width:38.00px;top:749.09px"><i class="X">×</i></div>
<div class="d" style="left:1041.80px;width:38.20px;top:749.09px"><i class="C">●</i></div>
<div class="d" style="left:1080.00px;width:38.30px;top:749.09px"><i class="T">△</i></div>
<div class="d" style="left:1118.30px;width:34.10px;top:749.09px"><i class="X">×</i></div>
<div class="d" style="left:1152.40px;width:34.20px;top:749.09px"><i class="A">→</i></div>
<div class="d" style="left:429.80px;width:29.70px;top:770.31px"><i class="C">●</i></div>
<div class="d" style="left:459.50px;width:29.80px;top:770.31px"><i class="A">→</i></div>
<div class="d" style="left:489.30px;width:29.70px;top:770.31px"><i class="T">△</i></div>
<div class="d" style="left:519.00px;width:29.80px;top:770.31px"><i class="A">→</i></div>
<div class="d" style="left:548.80px;width:29.70px;top:770.31px"><i class="A">→</i></div>
<div class="d" style="left:578.50px;width:29.80px;top:770.31px"><i class="A">→</i></div>
<div class="d" style="left:608.30px;width:29.70px;top:770.31px"><i class="C">●</i></div>
<div class="d" style="left:638.00px;width:29.80px;top:770.31px"><i class="X">×</i></div>
<div class="d" style="left:667.80px;width:29.70px;top:770.31px"><i class="C">●</i></div>
<div class="d" style="left:697.50px;width:68.20px;top:770.31px"><i class="X">×</i></div>
<div class="d" style="left:765.70px;width:29.80px;top:770.31px"><i class="C">●</i></div>
<div class="d" style="left:795.50px;width:29.80px;top:770.31px"><i class="C">●</i></div>
<div class="d" style="left:825.30px;width:29.70px;top:770.31px"><i class="X">×</i></div>
<div class="d" style="left:855.00px;width:29.80px;top:770.31px"><i class="A">→</i></div>
<div class="d" style="left:884.80px;width:29.70px;top:770.31px"><i class="X">×</i></div>
<div class="d" style="left:914.50px;width:29.80px;top:770.31px"><i class="C">●</i></div>
<div class="d" style="left:944.30px;width:29.70px;top:770.31px"><i class="A">→</i></div>
<div class="d" style="left:974.00px;width:29.80px;top:770.31px"><i class="A">→</i></div>
<div class="d" style="left:1003.80px;width:38.00px;top:770.31px"><i class="X">×</i></div>
<div class="d" style="left:1041.80px;width:38.20px;top:770.31px"><i class="A">→</i></div>
<div class="d" style="left:1080.00px;width:38.30px;top:770.31px"><i class="T">△</i></div>
<div class="d" style="left:1118.30px;width:34.10px;top:770.31px"><i class="X">×</i></div>
<div class="d" style="left:1152.40px;width:34.20px;top:770.31px"><i class="A">→</i></div>
<div class="d" style="left:429.80px;width:29.70px;top:791.53px"><i class="C">●</i></div>
<div class="d" style="left:459.50px;width:29.80px;top:791.53px"><i class="X">×</i></div>
<div class="d" style="left:489.30px;width:29.70px;top:791.53px"><i class="T">△</i></div>
<div class="d" style="left:519.00px;width:29.80px;top:791.53px"><i class="T">△</i></div>
<div class="d" style="left:548.80px;width:29.70px;top:791.53px"><i class="T">△</i></div>
<div class="d" style="left:578.50px;width:29.80px;top:791.53px"><i class="A">→</i></div>
<div class="d" style="left:608.30px;width:29.70px;top:791.53px"><i class="C">●</i></div>
<div class="d" style="left:638.00px;width:29.80px;top:791.53px"><i class="C">●</i></div>
<div class="d" style="left:667.80px;width:29.70px;top:791.53px"><i class="C">●</i></div>
<div class="d" style="left:697.50px;width:68.20px;top:791.53px"><i class="C">●</i></div>
<div class="d" style="left:765.70px;width:29.80px;top:791.53px"><i class="C">●</i></div>
<div class="d" style="left:795.50px;width:29.80px;top:791.53px"><i class="X">×</i></div>
<div class="d" style="left:825.30px;width:29.70px;top:791.53px"><i class="A">→</i></div>
<div class="d" style="left:855.00px;width:29.80px;top:791.53px"><i class="X">×</i></div>
<div class="d" style="left:884.80px;width:29.70px;top:791.53px"><i class="C">●</i></div>
<div class="d" style="left:914.50px;width:29.80px;top:791.53px"><i class="X">×</i></div>
<div class="d" style="left:944.30px;width:29.70px;top:791.53px"><i class="X">×</i></div>
<div class="d" style="left:974.00px;width:29.80px;top:791.53px"><i class="A">→</i></div>
<div class="d" style="left:1003.80px;width:38.00px;top:791.53px"><i class="A">→</i></div>
<div class="d" style="left:1041.80px;width:38.20px;top:791.53px"><i class="X">×</i></div>
<div class="d" style="left:1080.00px;width:38.30px;top:791.53px"><i class="T">△</i></div>
<div class="d" style="left:1118.30px;width:34.10px;top:791.53px"><i class="C">●</i></div>
<div class="d" style="left:1152.40px;width:34.20px;top:791.53px"><i class="A">→</i></div>
<div class="d" style="left:429.80px;width:29.70px;top:812.75px"><i class="T">△</i></div>
<div class="d" style="left:459.50px;width:29.80px;top:812.75px"><i class="X">×</i></div>
<div class="d" style="left:489.30px;width:29.70px;top:812.75px"><i class="T">△</i></div>
<div class="d" style="left:519.00px;width:29.80px;top:812.75px"><i class="T">△</i></div>
<div class="d" style="left:548.80px;width:29.70px;top:812.75px"><i class="T">△</i></div>
<div class="d" style="left:578.50px;width:29.80px;top:812.75px"><i class="A">→</i></div>
<div class="d" style="left:608.30px;width:29.70px;top:812.75px"><i class="T">△</i></div>
<div class="d" style="left:638.00px;width:29.80px;top:812.75px"><i class="X">×</i></div>
<div class="d" style="left:667.80px;width:29.70px;top:812.75px"><i class="T">△</i></div>
<div class="d" style="left:697.50px;width:68.20px;top:812.75px"><i class="X">×</i></div>
<div class="d" style="left:765.70px;width:29.80px;top:812.75px"><i class="T">△</i></div>
<div class="d" style="left:795.50px;width:29.80px;top:812.75px"><i class="X">×</i></div>
<div class="d" style="left:825.30px;width:29.70px;top:812.75px"><i class="C">●</i></div>
<div class="d" style="left:855.00px;width:29.80px;top:812.75px"><i class="X">×</i></div>
<div class="d" style="left:884.80px;width:29.70px;top:812.75px"><i class="C">●</i></div>
<div class="d" style="left:914.50px;width:29.80px;top:812.75px"><i class="X">×</i></div>
<div class="d" style="left:944.30px;width:29.70px;top:812.75px"><i class="X">×</i></div>
<div class="d" style="left:974.00px;width:29.80px;top:812.75px"><i class="C">●</i></div>
<div class="d" style="left:1003.80px;width:38.00px;top:812.75px"><i class="X">×</i></div>
<div class="d" style="left:1041.80px;width:38.20px;top:812.75px"><i class="X">×</i></div>
<div class="d" style="left:1080.00px;width:38.30px;top:812.75px"><i class="T">△</i></div>
<div class="d" style="left:1118.30px;width:34.10px;top:812.75px"><i class="X">×</i></div>
<div class="d" style="left:1152.40px;width:34.20px;top:812.75px"><i class="A">→</i></div>
<div class="d" style="left:429.80px;width:29.70px;top:833.97px"><i class="T">△</i></div>
<div class="d" style="left:459.50px;width:29.80px;top:833.97px"><i class="A">→</i></div>
<div class="d" style="left:489.30px;width:29.70px;top:833.97px"><i class="T">△</i></div>
<div class="d" style="left:519.00px;width:29.80px;top:833.97px"><i class="A">→</i></div>
<div class="d" style="left:548.80px;width:29.70px;top:833.97px"><i class="A">→</i></div>
<div class="d" style="left:578.50px;width:29.80px;top:833.97px"><i class="A">→</i></div>
<div class="d" style="left:608.30px;width:29.70px;top:833.97px"><i class="T">△</i></div>
<div class="d" style="left:638.00px;width:29.80px;top:833.97px"><i class="X">×</i></div>
<div class="d" style="left:667.80px;width:29.70px;top:833.97px"><i class="T">△</i></div>
<div class="d" style="left:697.50px;width:68.20px;top:833.97px"><i class="X">×</i></div>
<div class="d" style="left:765.70px;width:29.80px;top:833.97px"><i class="T">△</i></div>
<div class="d" style="left:795.50px;width:29.80px;top:833.97px"><i class="X">×</i></div>
<div class="d" style="left:825.30px;width:29.70px;top:833.97px"><i class="X">×</i></div>
<div class="d" style="left:855.00px;width:29.80px;top:833.97px"><i class="C">●</i></div>
<div class="d" style="left:884.80px;width:29.70px;top:833.97px"><i class="X">×</i></div>
<div class="d" style="left:914.50px;width:29.80px;top:833.97px"><i class="X">×</i></div>
<div class="d" style="left:944.30px;width:29.70px;top:833.97px"><i class="C">●</i></div>
<div class="d" style="left:974.00px;width:29.80px;top:833.97px"><i class="A">→</i></div>
<div class="d" style="left:1003.80px;width:38.00px;top:833.97px"><i class="X">×</i></div>
<div class="d" style="left:1041.80px;width:38.20px;top:833.97px"><i class="X">×</i></div>
<div class="d" style="left:1080.00px;width:38.30px;top:833.97px"><i class="T">△</i></div>
<div class="d" style="left:1118.30px;width:34.10px;top:833.97px"><i class="X">×</i></div>
<div class="d" style="left:1152.40px;width:34.20px;top:833.97px"><i class="A">→</i></div>
<div class="d" style="left:429.80px;width:29.70px;top:855.19px"><i class="T">△</i></div>
<div class="d" style="left:459.50px;width:29.80px;top:855.19px"><i class="T">△</i></div>
<div class="d" style="left:489.30px;width:29.70px;top:855.19px"><i class="T">△</i></div>
<div class="d" style="left:519.00px;width:29.80px;top:855.19px"><i class="T">△</i></div>
<div class="d" style="left:548.80px;width:29.70px;top:855.19px"><i class="T">△</i></div>
<div class="d" style="left:578.50px;width:29.80px;top:855.19px"><i class="T">△</i></div>
<div class="d" style="left:608.30px;width:29.70px;top:855.19px"><i class="T">△</i></div>
<div class="d" style="left:638.00px;width:29.80px;top:855.19px"><i class="T">△</i></div>
<div class="d" style="left:667.80px;width:29.70px;top:855.19px"><i class="T">△</i></div>
<div class="d" style="left:697.50px;width:68.20px;top:855.19px"><i class="T">△</i></div>
<div class="d" style="left:765.70px;width:29.80px;top:855.19px"><i class="T">△</i></div>
<div class="d" style="left:795.50px;width:29.80px;top:855.19px"><i class="T">△</i></div>
<div class="d" style="left:825.30px;width:29.70px;top:855.19px"><i class="T">△</i></div>
<div class="d" style="left:855.00px;width:29.80px;top:855.19px"><i class="T">△</i></div>
<div class="d" style="left:884.80px;width:29.70px;top:855.19px"><i class="T">△</i></div>
<div class="d" style="left:914.50px;width:29.80px;top:855.19px"><i class="T">△</i></div>
<div class="d" style="left:944.30px;width:29.70px;top:855.19px"><i class="T">△</i></div>
<div class="d" style="left:974.00px;width:29.80px;top:855.19px"><i class="T">△</i></div>
<div class="d" style="left:1003.80px;width:38.00px;top:855.19px"><i class="T">△</i></div>
<div class="d" style="left:1041.80px;width:38.20px;top:855.19px"><i class="T">△</i></div>
<div class="d" style="left:1080.00px;width:38.30px;top:855.19px"><i class="A">→</i></div>
<div class="d" style="left:1118.30px;width:34.10px;top:855.19px"><i class="T">△</i></div>
<div class="d" style="left:1152.40px;width:34.20px;top:855.19px"><i class="T">△</i></div>
<div class="d" style="left:429.80px;width:29.70px;top:876.41px"><i class="C">●</i></div>
<div class="d" style="left:459.50px;width:29.80px;top:876.41px"><i class="X">×</i></div>
<div class="d" style="left:489.30px;width:29.70px;top:876.41px"><i class="T">△</i></div>
<div class="d" style="left:519.00px;width:29.80px;top:876.41px"><i class="C">●</i></div>
<div class="d" style="left:548.80px;width:29.70px;top:876.41px"><i class="C">●</i></div>
<div class="d" style="left:578.50px;width:29.80px;top:876.41px"><i class="C">●</i></div>
<div class="d" style="left:608.30px;width:29.70px;top:876.41px"><i class="C">●</i></div>
<div class="d" style="left:638.00px;width:29.80px;top:876.41px"><i class="X">×</i></div>
<div class="d" style="left:667.80px;width:29.70px;top:876.41px"><i class="C">●</i></div>
<div class="d" style="left:697.50px;width:68.20px;top:876.41px"><i class="X">×</i></div>
<div class="d" style="left:765.70px;width:29.80px;top:876.41px"><i class="C">●</i></div>
<div class="d" style="left:795.50px;width:29.80px;top:876.41px"><i class="X">×</i></div>
<div class="d" style="left:825.30px;width:29.70px;top:876.41px"><i class="C">●</i></div>
<div class="d" style="left:855.00px;width:29.80px;top:876.41px"><i class="C">●</i></div>
<div class="d" style="left:884.80px;width:29.70px;top:876.41px"><i class="X">×</i></div>
<div class="d" style="left:914.50px;width:29.80px;top:876.41px"><i class="X">×</i></div>
<div class="d" style="left:944.30px;width:29.70px;top:876.41px"><i class="X">×</i></div>
<div class="d" style="left:974.00px;width:29.80px;top:876.41px"><i class="A">→</i></div>
<div class="d" style="left:1003.80px;width:38.00px;top:876.41px"><i class="T">△</i></div>
<div class="d" style="left:1041.80px;width:38.20px;top:876.41px"><i class="X">×</i></div>
<div class="d" style="left:1080.00px;width:38.30px;top:876.41px"><i class="T">△</i></div>
<div class="d" style="left:1118.30px;width:34.10px;top:876.41px"><i class="X">×</i></div>
<div class="d" style="left:1152.40px;width:34.20px;top:876.41px"><i class="A">→</i></div>
<div class="d" style="left:429.80px;width:29.70px;top:897.63px"><i class="C">●</i></div>
<div class="d" style="left:459.50px;width:29.80px;top:897.63px"><i class="X">×</i></div>
<div class="d" style="left:489.30px;width:29.70px;top:897.63px"><i class="T">△</i></div>
<div class="d" style="left:519.00px;width:29.80px;top:897.63px"><i class="T">△</i></div>
<div class="d" style="left:548.80px;width:29.70px;top:897.63px"><i class="T">△</i></div>
<div class="d" style="left:578.50px;width:29.80px;top:897.63px"><i class="A">→</i></div>
<div class="d" style="left:608.30px;width:29.70px;top:897.63px"><i class="C">●</i></div>
<div class="d" style="left:638.00px;width:29.80px;top:897.63px"><i class="C">●</i></div>
<div class="d" style="left:667.80px;width:29.70px;top:897.63px"><i class="C">●</i></div>
<div class="d" style="left:697.50px;width:68.20px;top:897.63px"><i class="T">△</i></div>
<div class="d" style="left:765.70px;width:29.80px;top:897.63px"><i class="C">●</i></div>
<div class="d" style="left:795.50px;width:29.80px;top:897.63px"><i class="C">●</i></div>
<div class="d" style="left:825.30px;width:29.70px;top:897.63px"><i class="C">●</i></div>
<div class="d" style="left:855.00px;width:29.80px;top:897.63px"><i class="X">×</i></div>
<div class="d" style="left:884.80px;width:29.70px;top:897.63px"><i class="C">●</i></div>
<div class="d" style="left:914.50px;width:29.80px;top:897.63px"><i class="X">×</i></div>
<div class="d" style="left:944.30px;width:29.70px;top:897.63px"><i class="X">×</i></div>
<div class="d" style="left:974.00px;width:29.80px;top:897.63px"><i class="A">→</i></div>
<div class="d" style="left:1003.80px;width:38.00px;top:897.63px"><i class="T">△</i></div>
<div class="d" style="left:1041.80px;width:38.20px;top:897.63px"><i class="X">×</i></div>
<div class="d" style="left:1080.00px;width:38.30px;top:897.63px"><i class="T">△</i></div>
<div class="d" style="left:1118.30px;width:34.10px;top:897.63px"><i class="X">×</i></div>
<div class="d" style="left:1152.40px;width:34.20px;top:897.63px"><i class="A">→</i></div>
<div class="f" style="left:9.6px;top:929.0px"><span class="L">*1 </span>只有在系统扫描完之前的所有文件并显示<span class="L"> [</span>新作业<span class="L">] </span>以后，您才能同时执行多个操作。</div>
<div class="f" style="left:9.6px;top:946.0px"><span class="L">*2 </span>当机器开始处理打印数据时，打印机功能屏幕顶部的作业列表选项卡中会显示该打印作业。</div>
<div class="f" style="left:9.6px;top:963.0px"><span class="L">*3 </span>只有在系统扫描完之前的所有文件以后，您才能同时执行多个操作。</div>
<div class="f" style="left:9.6px;top:980.0px"><span class="L">*4 </span>按<span class="L"> [</span>新作业<span class="L">] </span>以后，您可以同时执行多个操作。</div>
<div class="f" style="left:9.6px;top:997.0px"><span class="L">*5 </span>如果将多个文件作为单个文件扫描，则在机器等待下一个文件期间，您可以使用后续功能同时执行多个操作。</div>
<div class="id" style="left:1205.6px;top:1045.3px">DNK007</div>
</body></html>
